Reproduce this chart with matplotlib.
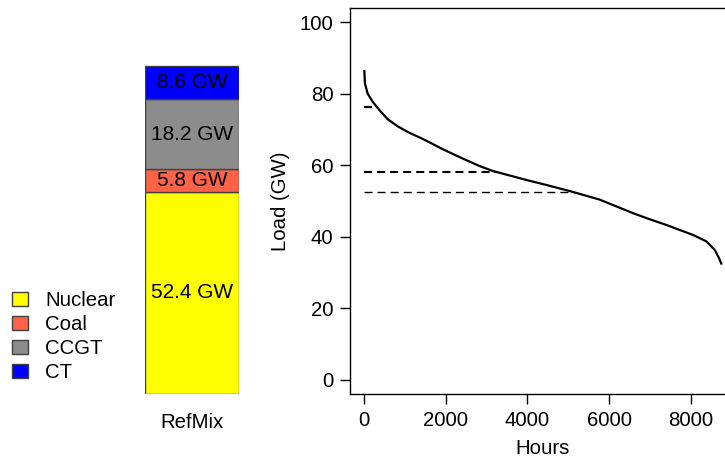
import numpy as np
import matplotlib
matplotlib.use("Agg")
import matplotlib.pyplot as plt
from matplotlib.patches import Patch

plt.rcParams['font.family'] = ['Liberation Sans', 'DejaVu Sans']
plt.rcParams['lines.scale_dashes'] = False

# Capacity mix (GW)
techs = ["Nuclear", "Coal", "CCGT", "CT"]
capacity = [52.4, 5.8, 18.2, 8.6]
colors = ["#FFFF00", "#FF6347", "#8C8C8C", "#0000FF"]
bar_name = "RefMix"

# Load duration curve (hours, GW)
hours = [1, 17, 82, 204, 368, 573, 818, 1104, 1391, 1636, 1923, 2331, 2822, 3149,
         3967, 4458, 5031, 5767, 6176, 6585, 6994, 7403, 7730, 8057, 8221, 8385,
         8589, 8695, 8760]
load = [86.7, 82.9, 80.1, 77.8, 75.5, 72.9, 70.9, 69.1, 67.6, 66.2, 64.5, 62.3, 59.8,
        58.4, 55.9, 54.5, 52.8, 50.4, 48.5, 46.6, 44.9, 43.3, 41.9, 40.5, 39.6, 38.7,
        36.3, 34.0, 32.2]

FS = 14.7
W, H = 725, 462
fig = plt.figure(figsize=(W / 100, H / 100), dpi=100)

def rect(l, t, r, b):
    return [l / W, 1 - b / H, (r - l) / W, (b - t) / H]

# ---- left: stacked bar ----
axb = fig.add_axes(rect(145, 8, 239, 394))
bottom = 0
for name, val, col in zip(techs, capacity, colors):
    axb.bar(0, val, bottom=bottom, width=1.0, color=col, edgecolor="#404040", linewidth=1)
    axb.text(0, bottom + val / 2, f"{val} GW", ha="center", va="center", fontsize=15)
    bottom += val
axb.set_xlim(-0.5, 0.5)
axb.set_ylim(0, 100)
axb.axis("off")
axb.text(0.0, -0.073, bar_name, transform=axb.get_xaxis_transform(), ha="center",
         va="center", fontsize=FS)

handles = [Patch(facecolor=c, edgecolor="#404040", label=t) for t, c in zip(techs, colors)]
fig.legend(handles=handles, loc="upper left", bbox_to_anchor=(-2 / W, 1 - 277 / H),
           frameon=False, fontsize=FS, handlelength=0.76, handleheight=0.68,
           handletextpad=0.85, labelspacing=0.24, borderaxespad=0.3)

# ---- right: load duration curve ----
ax = fig.add_axes(rect(350, 8, 736, 394))
ax.plot(hours, load, color="black", linewidth=1.6, solid_capstyle="butt",
        solid_joinstyle="round")

levels = np.cumsum(capacity)[:3]
lws = [1.0, 1.5, 1.6]
h_arr = np.array(hours)[::-1]
l_arr = np.array(load)[::-1]
for lev, lw in zip(levels, lws):
    xend = np.interp(lev, l_arr, h_arr)
    ax.plot([0, xend], [lev, lev], color="black", linestyle=(0, (5.8, 3.6)), linewidth=lw)

ax.set_xlim(-349, 9110)
ax.set_ylim(-4, 104)
ax.set_xticks([0, 2000, 4000, 6000, 8000])
ax.set_yticks([0, 20, 40, 60, 80, 100])
ax.tick_params(labelsize=FS, length=7, width=1, pad=5)
ax.set_xlabel("Hours", fontsize=FS, labelpad=7)
ax.set_ylabel("Load (GW)", fontsize=FS, labelpad=7)
for s in ax.spines.values():
    s.set_linewidth(1)

fig.savefig("out.png", dpi=100)
